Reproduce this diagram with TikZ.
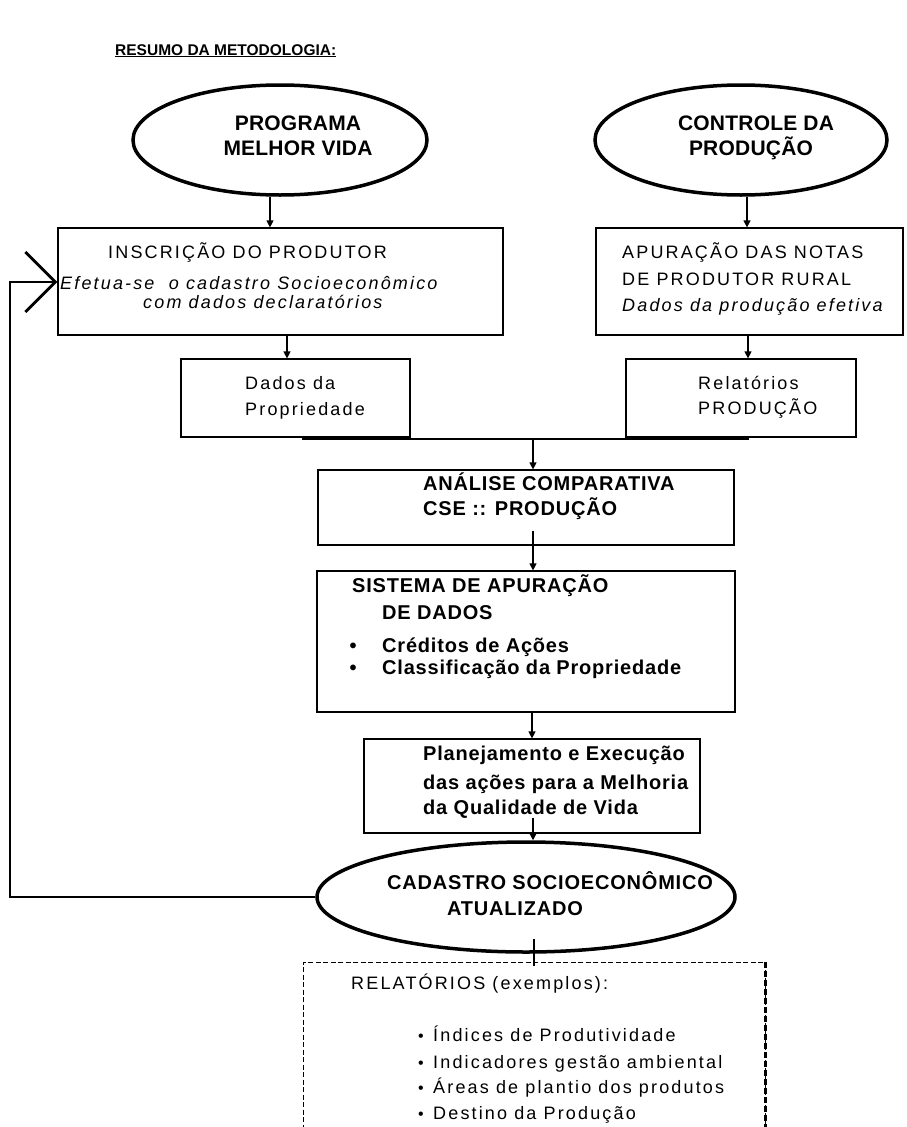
\documentclass[tikz,border=0pt]{standalone}
\usepackage{fontspec}
\setmainfont{Liberation Sans}
\newfontfamily\rgLS[LetterSpace=12]{Liberation Sans}
\newfontfamily\bdLS[LetterSpace=4]{Liberation Sans}
\newfontfamily\elLS[LetterSpace=1]{Liberation Sans}
\usetikzlibrary{arrows.meta,shapes.geometric}
\begin{document}
\begin{tikzpicture}[x=1pt,y=-1pt,
  box/.style={draw, line width=1.2pt, inner sep=0pt},
  ell/.style={draw, ellipse, line width=3.5pt, inner sep=0pt},
  arr/.style={line width=1.2pt, -{Triangle[length=7pt,width=7pt]}},
  plain/.style={line width=1.2pt},
  loopline/.style={line width=2.2pt, -{Straight Barb[length=30pt,width=60pt,line width=2.8pt]}},
  rt/.style={anchor=base west, inner sep=0pt, font=\rgLS\fontsize{18}{22}\selectfont},
  it/.style={anchor=base west, inner sep=0pt, font=\rgLS\itshape\fontsize{18}{22}\selectfont},
  bt/.style={anchor=base west, inner sep=0pt, font=\bdLS\bfseries\fontsize{20}{24}\selectfont},
  et/.style={anchor=base, inner sep=0pt, font=\elLS\bfseries\fontsize{21}{25}\selectfont},
  bul/.style={anchor=base, inner sep=0pt, font=\bfseries\fontsize{20}{24}\selectfont},
  rbul/.style={anchor=base, inner sep=0pt, font=\fontsize{16}{20}\selectfont},
]
\useasboundingbox (0,0) rectangle (906,1127);
\clip (0,0) rectangle (906,1127);
\fill[white] (0,0) rectangle (906,1127);

% title
\node[anchor=base west, inner sep=0pt, font=\bfseries\fontsize{15.5}{18}\selectfont] (title) at (115,55) {\underline{RESUMO DA METODOLOGIA:}};

% ellipses
\node[ell, minimum width=294pt, minimum height=110pt] (E1) at (280,140) {};
\node[ell, minimum width=292pt, minimum height=110pt] (E2) at (741,140) {};
\node[et] (e1a) at (298,130.5) {PROGRAMA};
\node[et] (e1b) at (298,155.5) {MELHOR VIDA};
\node[et] (e2a) at (756,130.5) {CONTROLE DA};
\node[et] (e2b) at (751,155.5) {PRODUÇÃO};

% boxes
\node[box, minimum width=445pt, minimum height=107pt] (B1) at (280.5,281.5) {};
\node[box, minimum width=307pt, minimum height=107pt] (B2) at (749.5,281.5) {};
\node[box, minimum width=229pt, minimum height=78pt] (B3) at (295.5,398) {};
\node[box, minimum width=230pt, minimum height=78pt] (B4) at (741,398) {};
\node[box, minimum width=416pt, minimum height=75pt] (B5) at (526,507.5) {};
\node[box, minimum width=418pt, minimum height=141pt] (B6) at (526,641.5) {};
\node[box, minimum width=336pt, minimum height=94pt] (B7) at (532,786) {};
\node[ell, minimum width=418pt, minimum height=110pt] (E3) at (526,897) {};
\node[draw, line width=1pt, dash pattern=on 5pt off 2.5pt, inner sep=0pt, minimum width=462pt, minimum height=196pt] (D) at (534,1060) {};
\draw[line width=2.4pt, dash pattern=on 6pt off 3pt] (D.north east) -- (D.south east);

% texts
\node[rt] (t1a) at (108,258.5) {INSCRIÇÃO DO PRODUTOR};
\node[it] (t1b) at (60,289) {Efetua-se \ o cadastro Socioeconômico};
\node[it] (t1c) at (143,308) {com dados declaratórios};
\node[rt] (t2a) at (622,258.5) {APURAÇÃO DAS NOTAS};
\node[rt] (t2b) at (622,285.5) {DE PRODUTOR RURAL};
\node[it] (t2c) at (622,311) {Dados da produção efetiva};
\node[rt] (t3a) at (245,389) {Dados da};
\node[rt] (t3b) at (245,415) {Propriedade};
\node[rt] (t4a) at (698,389) {Relatórios};
\node[rt] (t4b) at (698,414.5) {PRODUÇÃO};
\node[bt] (t5a) at (423,490) {ANÁLISE COMPARATIVA};
\node[bt] (t5b) at (423,515) {CSE :: PRODUÇÃO};
\node[bt] (t6a) at (352,592) {SISTEMA DE APURAÇÃO};
\node[bt] (t6b) at (382,619) {DE DADOS};
\node[bul] (b6c) at (353,652) {•};
\node[bt] (t6c) at (382,652) {Créditos de Ações};
\node[bul] (b6d) at (353,674) {•};
\node[bt] (t6d) at (382,674) {Classificação da Propriedade};
\node[bt] (t7a) at (423,760) {Planejamento e Execução};
\node[bt] (t7b) at (423,789) {das ações para a Melhoria};
\node[bt] (t7c) at (423,814) {da Qualidade de Vida};
\node[bt] (t8a) at (387,889) {CADASTRO SOCIOECONÔMICO};
\node[bt] (t8b) at (447,915) {ATUALIZADO};
\node[rt] (t9a) at (351,989.5) {RELATÓRIOS (exemplos):};
\node[rbul] (b9b) at (421,1041) {•};
\node[rt] (t9b) at (433,1041) {Índices de Produtividade};
\node[rbul] (b9c) at (421,1068) {•};
\node[rt] (t9c) at (433,1068) {Indicadores gestão ambiental};
\node[rbul] (b9d) at (421,1093) {•};
\node[rt] (t9d) at (433,1093) {Áreas de plantio dos produtos};
\node[rbul] (b9e) at (421,1119) {•};
\node[rt] (t9e) at (433,1119) {Destino da Produção};

% connectors
\draw[arr] ([xshift=-10pt]E1.south) -- ([xshift=-10pt]E1.south |- B1.north);
\draw[arr] ([xshift=6pt]E2.south) -- ([xshift=6pt]E2.south |- B2.north);
\draw[arr] ([xshift=6.5pt]B1.south) -- ([xshift=6.5pt]B1.south |- B3.north);
\draw[arr] ([xshift=-1.5pt]B2.south) -- ([xshift=-1.5pt]B2.south |- B4.north);
\coordinate (m1) at (302,439);
\coordinate (m2) at (749,439);
\coordinate (mj) at (533,439);
\draw[plain] (m1) -- (m2);
\draw[arr] (mj) -- (mj |- B5.north);
\draw[arr] ([xshift=7pt,yshift=15pt]B5.south) -- ([xshift=7pt]B5.south |- B6.north);
\draw[arr] (B6.south -| B7.north) -- (B7.north);
\draw[arr] ([xshift=1pt,yshift=16pt]B7.south) -- ([xshift=1pt]B7.south |- E3.north);
\draw[plain] ([yshift=15pt]E3.south -| D.north) -- ([yshift=-4pt]D.north);
\coordinate (L1) at (10,897);
\coordinate (L2) at (10,282);
\draw[loopline] (E3.west) -- (L1) -- (L2) -- (L2 -| B1.west);
\end{tikzpicture}
\end{document}
